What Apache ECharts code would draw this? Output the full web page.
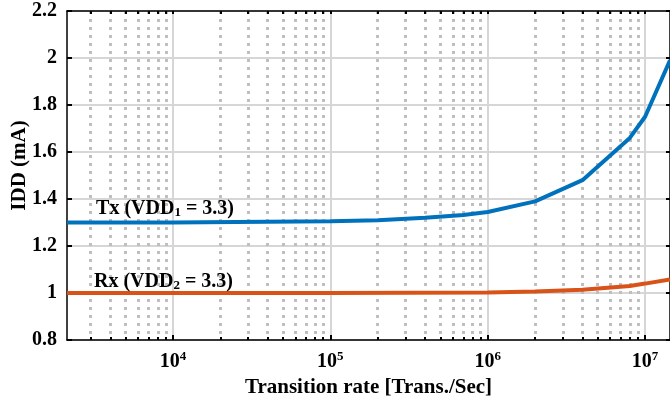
<!DOCTYPE html>
<html>
<head>
<meta charset="utf-8">
<script src="https://cdn.jsdelivr.net/npm/echarts@6/dist/echarts.min.js"></script>
<style>
  html, body { margin: 0; padding: 0; background: #fff; }
  #chart { width: 670px; height: 396px; }
</style>
</head>
<body>
<div id="chart"></div>
<script>
// x range (log axis) and data
const X_MIN = 2120;
const X_MAX = 1.44e7;

const rateTx = [2120, 1e4, 1e5, 2e5, 4e5, 7e5, 1e6, 2e6, 4e6, 8e6, 1e7, 1.44e7];
const iddTx  = [1.30, 1.30, 1.305, 1.31, 1.32, 1.332, 1.345, 1.39, 1.48, 1.66, 1.75, 1.99];

const rateRx = [2120, 1e5, 1e6, 2e6, 4e6, 8e6, 1e7, 1.44e7];
const iddRx  = [1.0, 1.0, 1.002, 1.006, 1.014, 1.03, 1.04, 1.058];

const decadeTicks = [1e4, 1e5, 1e6, 1e7];

// minor log grid positions 2..9 x 10^n inside the range
const minorTicks = [];
for (let p = 3; p <= 7; p++) {
  for (let k = 2; k <= 9; k++) {
    const v = k * Math.pow(10, p);
    if (v >= X_MIN && v <= X_MAX) minorTicks.push(v);
  }
}
const allTicks = minorTicks.concat(decadeTicks).sort((a, b) => a - b);

const FONT = '"Liberation Serif", "DejaVu Serif", serif';
const black = '#000';

const chart = echarts.init(document.getElementById('chart'), null, { renderer: 'canvas' });

const labelRich = {
  b: { fontFamily: FONT, fontWeight: 'bold', fontSize: 20, color: black },
  s: { fontFamily: FONT, fontWeight: 'bold', fontSize: 13, color: black, verticalAlign: 'bottom', padding: [8, 0, 0, 0] }
};

chart.setOption({
  animation: false,
  backgroundColor: '#fff',
  grid: { left: 67, right: 0, top: 11, bottom: 56, containLabel: false, outerBoundsMode: 'none' },
  xAxis: [
    {
      type: 'log',
      min: X_MIN,
      max: X_MAX,
      position: 'bottom',
      name: 'Transition rate [Trans./Sec]',
      nameLocation: 'middle',
      nameGap: 30,
      nameTextStyle: { fontFamily: FONT, fontWeight: 'bold', fontSize: 21, color: black },
      axisLine: { lineStyle: { color: black, width: 1.5 } },
      axisTick: { inside: true, length: 5, lineStyle: { color: black, width: 2 }, customValues: decadeTicks },
      axisLabel: {
        customValues: decadeTicks,
        margin: 10,
        formatter: v => '{b|10}{e|' + Math.round(Math.log10(v)) + '}',
        rich: {
          b: { fontFamily: FONT, fontWeight: 'bold', fontSize: 20, color: black, lineHeight: 24 },
          e: { fontFamily: FONT, fontWeight: 'bold', fontSize: 13, color: black, verticalAlign: 'top' }
        }
      },
      splitLine: { show: true, lineStyle: { color: '#d6d6d6', width: 2 } }
    },
    {
      type: 'log',
      min: X_MIN,
      max: X_MAX,
      position: 'bottom',
      axisLine: { show: false },
      axisTick: { inside: true, length: 3, lineStyle: { color: black, width: 2 }, customValues: minorTicks },
      axisLabel: { show: false, customValues: minorTicks },
      splitLine: { show: true, lineStyle: { color: '#bfbfbf', width: 3, type: [3, 5] } }
    },
    {
      type: 'log',
      min: X_MIN,
      max: X_MAX,
      position: 'top',
      axisLine: { lineStyle: { color: black, width: 1.5 } },
      axisTick: { inside: true, length: 3, lineStyle: { color: black, width: 2 }, customValues: allTicks },
      axisLabel: { show: false, customValues: allTicks },
      splitLine: { show: false }
    }
  ],
  yAxis: [
    {
      type: 'value',
      min: 0.8,
      max: 2.2,
      interval: 0.2,
      name: 'IDD (mA)',
      nameLocation: 'middle',
      nameGap: 37,
      nameMoveOverlap: false,
      nameTextStyle: { fontFamily: FONT, fontWeight: 'bold', fontSize: 21, color: black, padding: [0, 0, 0, 20] },
      axisLine: { show: true, lineStyle: { color: black, width: 1.5 } },
      axisTick: { show: true, inside: true, length: 5, lineStyle: { color: black, width: 2 } },
      axisLabel: {
        margin: 10,
        fontFamily: FONT,
        fontWeight: 'bold',
        fontSize: 20,
        color: black,
        formatter: v => String(Math.round(v * 10) / 10)
      },
      splitLine: { show: true, lineStyle: { color: '#d6d6d6', width: 2 } }
    },
    {
      type: 'value',
      min: 0.8,
      max: 2.2,
      interval: 0.2,
      position: 'right',
      axisLine: { show: true, lineStyle: { color: black, width: 1.5 } },
      axisTick: { show: true, inside: true, length: 4, lineStyle: { color: black, width: 2 } },
      axisLabel: { show: false },
      splitLine: { show: false }
    }
  ],
  series: [
    {
      name: 'Rx',
      type: 'line',
      xAxisIndex: 0,
      yAxisIndex: 0,
      data: rateRx.map((x, i) => [x, iddRx[i]]),
      symbol: 'none',
      lineStyle: { color: '#D95319', width: 4 },
      z: 3,
      markPoint: {
        symbol: 'circle',
        symbolSize: 0,
        itemStyle: { color: 'transparent' },
        data: [{
          coord: [8700, 1.0],
          label: {
            show: true, position: 'top', distance: 1,
            formatter: '{b|Rx (VDD}{s|2}{b| = 3.3)}',
            rich: labelRich
          }
        }]
      }
    },
    {
      name: 'Tx',
      type: 'line',
      xAxisIndex: 0,
      yAxisIndex: 0,
      data: rateTx.map((x, i) => [x, iddTx[i]]),
      symbol: 'none',
      lineStyle: { color: '#0072BD', width: 4 },
      z: 4,
      markPoint: {
        symbol: 'circle',
        symbolSize: 0,
        itemStyle: { color: 'transparent' },
        data: [{
          coord: [8900, 1.3],
          label: {
            show: true, position: 'top', distance: 3,
            formatter: '{b|Tx (VDD}{s|1}{b| = 3.3)}',
            rich: labelRich
          }
        }]
      }
    }
  ]
});
</script>
</body>
</html>
